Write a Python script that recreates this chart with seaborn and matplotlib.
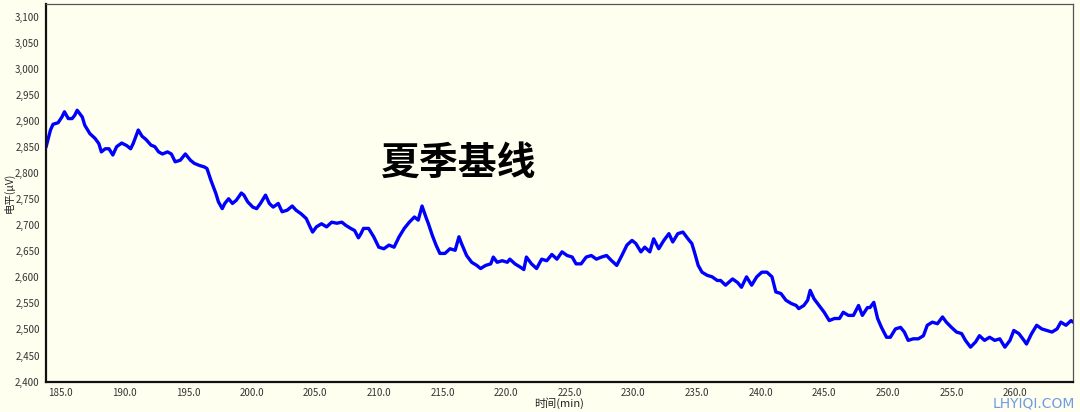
import pandas as pd
import matplotlib
matplotlib.use("Agg")
import matplotlib.pyplot as plt
import matplotlib.ticker as mticker
import seaborn as sns

# values (time in min, level in uV)
time_min = [
    183.85, 184.2, 184.4, 184.8, 185.1, 185.3, 185.6, 185.9, 186.1, 186.3,
    186.7, 186.9, 187.3, 187.7, 188.0, 188.2, 188.5, 188.8, 189.1, 189.4,
    189.8, 190.2, 190.5, 190.7, 191.1, 191.4, 191.7, 192.1, 192.4, 192.7,
    193.0, 193.4, 193.7, 194.0, 194.4, 194.8, 195.2, 195.5, 195.9, 196.3,
    196.5, 196.8, 197.2, 197.4, 197.7, 197.9, 198.2, 198.5, 198.8, 199.2,
    199.4, 199.7, 200.1, 200.4, 200.7, 201.1, 201.4, 201.7, 202.1, 202.4,
    202.8, 203.2, 203.5, 203.9, 204.3, 204.6, 204.8, 205.1, 205.5, 205.9,
    206.3, 206.7, 207.1, 207.4, 207.8, 208.1, 208.4, 208.6, 208.8, 209.2,
    209.6, 210.0, 210.4, 210.8, 211.2, 211.6, 212.0, 212.4, 212.8, 213.1,
    213.4, 213.7, 213.9, 214.2, 214.5, 214.8, 215.2, 215.6, 216.0, 216.3,
    216.5, 216.9, 217.3, 217.7, 218.0, 218.4, 218.8, 219.0, 219.3, 219.7,
    220.1, 220.3, 220.7, 221.1, 221.4, 221.6, 222.0, 222.4, 222.8, 223.2,
    223.6, 224.0, 224.4, 224.8, 225.2, 225.5, 225.9, 226.3, 226.7, 227.1,
    227.5, 227.9, 228.3, 228.7, 229.1, 229.5, 229.9, 230.2, 230.6, 230.9,
    231.3, 231.6, 232.0, 232.4, 232.8, 233.1, 233.5, 233.9, 234.3, 234.6,
    234.8, 235.1, 235.4, 235.8, 236.2, 236.6, 236.86, 237.25, 237.8, 238.2,
    238.5, 238.9, 239.3, 239.7, 240.1, 240.5, 240.9, 241.2, 241.6, 242.0,
    242.4, 242.8, 243.0, 243.4, 243.7, 243.9, 244.2, 244.6, 245.0, 245.4,
    245.8, 246.2, 246.5, 246.9, 247.3, 247.7, 248.0, 248.4, 248.6, 248.9,
    249.2, 249.5, 249.9, 250.2, 250.6, 251.0, 251.3, 251.6, 252.0, 252.4,
    252.8, 253.1, 253.5, 253.9, 254.3, 254.6, 255.0, 255.4, 255.8, 256.1,
    256.5, 256.9, 257.2, 257.6, 258.0, 258.4, 258.8, 259.2, 259.6, 259.9,
    260.3, 260.7, 260.9, 261.3, 261.7, 262.1, 262.5, 262.9, 263.3, 263.6,
    264.0, 264.4, 264.56,
]
level_uv = [
    2850, 2883, 2894, 2897, 2908, 2918, 2905, 2905, 2911, 2921,
    2908, 2892, 2876, 2867, 2857, 2841, 2847, 2847, 2835, 2851,
    2858, 2853, 2847, 2857, 2883, 2871, 2865, 2854, 2851, 2841,
    2837, 2841, 2837, 2822, 2825, 2837, 2825, 2819, 2815, 2812,
    2809, 2787, 2761, 2745, 2732, 2742, 2751, 2742, 2748, 2762,
    2758, 2745, 2735, 2732, 2742, 2758, 2742, 2735, 2742, 2726,
    2729, 2737, 2729, 2722, 2713, 2697, 2687, 2697, 2703, 2697,
    2706, 2704, 2706, 2700, 2694, 2690, 2676, 2684, 2694, 2694,
    2678, 2658, 2655, 2662, 2658, 2678, 2694, 2706, 2716, 2710,
    2737, 2716, 2703, 2681, 2662, 2646, 2646, 2655, 2652, 2678,
    2665, 2642, 2629, 2623, 2617, 2623, 2626, 2639, 2629, 2632,
    2629, 2635, 2626, 2620, 2615, 2639, 2626, 2617, 2635, 2632,
    2644, 2635, 2649, 2642, 2639, 2626, 2626, 2639, 2642, 2635,
    2639, 2642, 2632, 2623, 2642, 2662, 2671, 2665, 2649, 2658,
    2649, 2674, 2655, 2671, 2684, 2668, 2684, 2687, 2674, 2665,
    2649, 2623, 2610, 2604, 2601, 2594, 2594, 2585, 2597, 2590,
    2581, 2601, 2585, 2601, 2610, 2610, 2601, 2572, 2569, 2556,
    2550, 2546, 2540, 2546, 2556, 2575, 2559, 2546, 2533, 2517,
    2521, 2521, 2533, 2527, 2527, 2546, 2527, 2542, 2542, 2552,
    2521, 2504, 2485, 2485, 2501, 2504, 2495, 2479, 2482, 2482,
    2488, 2508, 2514, 2511, 2524, 2514, 2504, 2495, 2492, 2479,
    2466, 2476, 2488, 2479, 2485, 2479, 2482, 2466, 2479, 2498,
    2492, 2479, 2472, 2492, 2508, 2501, 2498, 2495, 2501, 2514,
    2508, 2517, 2514,
]

df = pd.DataFrame({"time": time_min, "level": level_uv})

sns.set_style("white")
plt.rcParams["font.family"] = ["Noto Sans CJK SC", "DejaVu Sans"]

bg = "#fffff0"
fig = plt.figure(figsize=(10.8, 4.12), dpi=100, facecolor=bg)
ax = fig.add_axes([0.0426, 0.074, 0.951, 0.9175], facecolor=bg)

sns.lineplot(data=df, x="time", y="level", color="#0000ff", linewidth=2.4,
             estimator=None, ax=ax)

ax.set_xlim(183.85, 264.56)
ax.set_ylim(2400, 3126)
ax.xaxis.set_major_locator(mticker.MultipleLocator(5))
ax.xaxis.set_minor_locator(mticker.MultipleLocator(1))
ax.yaxis.set_major_locator(mticker.MultipleLocator(50))
ax.yaxis.set_minor_locator(mticker.MultipleLocator(10))
ax.xaxis.set_major_formatter(mticker.FormatStrFormatter("%.1f"))
ax.yaxis.set_major_formatter(mticker.FuncFormatter(lambda v, p: f"{v:,.0f}"))

ax.tick_params(axis="both", which="major", direction="out", length=3, width=0.8,
               labelsize=7, labelcolor="#333333", color="#555555", pad=1.5)
ax.tick_params(axis="both", which="minor", direction="out", length=1.5, width=0.6,
               color="#777777")

for side in ["left", "bottom"]:
    ax.spines[side].set_color("#111111")
    ax.spines[side].set_linewidth(1.6)
for side in ["top", "right"]:
    ax.spines[side].set_color("#555555")
    ax.spines[side].set_linewidth(0.9)

ax.set_xlabel("时间(min)", fontsize=8, color="#222222", labelpad=0)
ax.set_ylabel("电平(μV)", fontsize=7.5, color="#222222")
ax.yaxis.set_label_coords(-0.0305, 0.5)

ax.text(0.402, 0.578, "夏季基线", transform=ax.transAxes, fontsize=28,
        fontweight="bold", color="black", ha="center", va="center")

fig.text(0.995, 0.003, "LHYIQI.COM", fontsize=10, color="#6f9be6",
         ha="right", va="bottom", family=["DejaVu Sans"])

fig.savefig("out.png", dpi=100, facecolor=bg)
